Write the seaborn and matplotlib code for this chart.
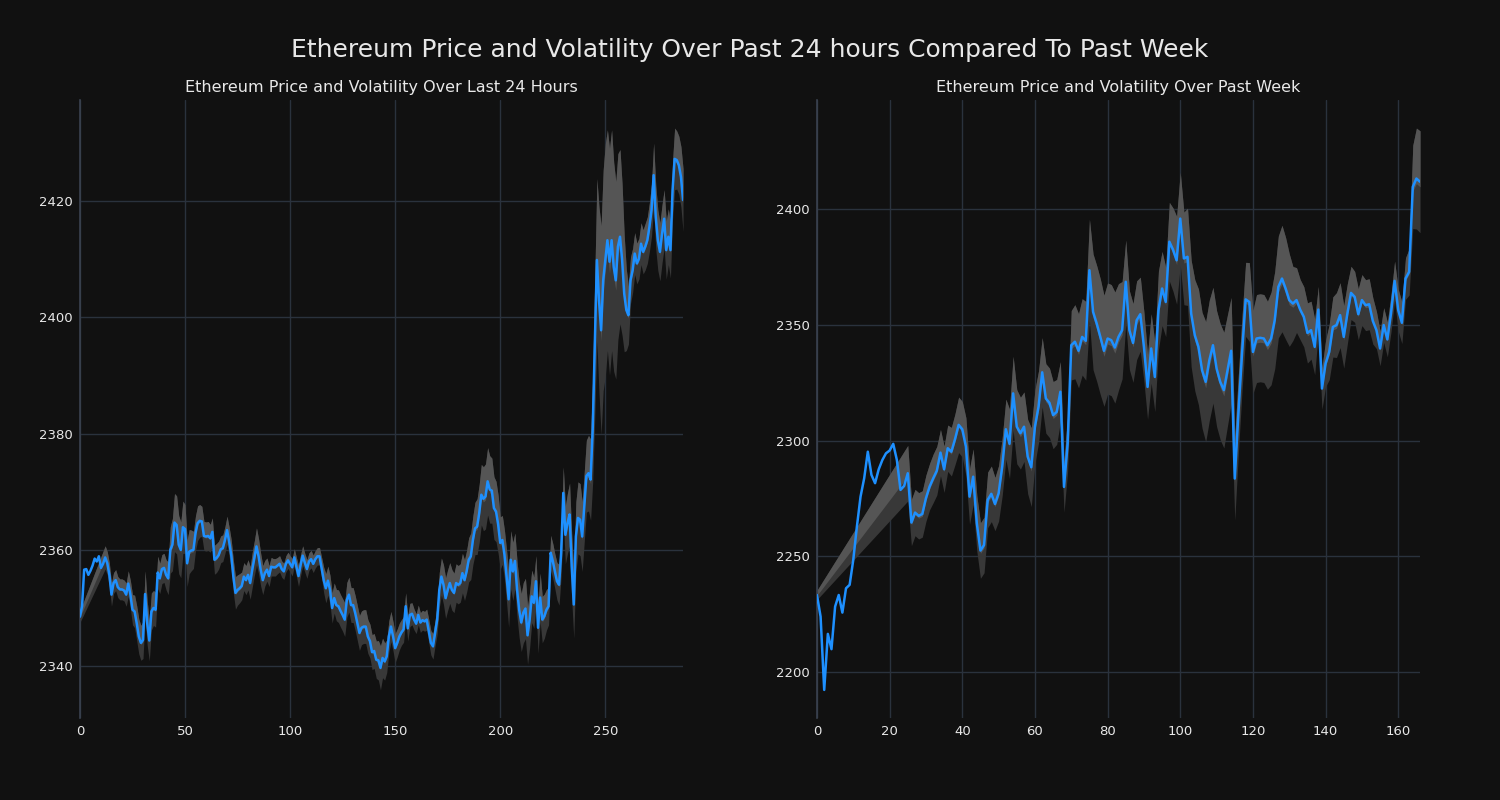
import numpy as np
import pandas as pd
import seaborn as sns
import matplotlib
matplotlib.use("Agg")
import matplotlib.pyplot as plt

nan = np.nan

# ---------------- data: last 24 hours (5-minute steps) ----------------
price_24h = [
    2348.5, 2350.3, 2356.6, 2356.7, 2355.7, 2356.4, 2357.3, 2358.5, 2358.0, 2358.9,
    2356.9, 2357.6, 2358.7, 2357.7, 2355.7, 2352.3, 2354.3, 2354.8, 2353.6, 2353.2,
    2353.2, 2353.0, 2352.3, 2354.2, 2352.3, 2349.7, 2349.4, 2347.4, 2345.1, 2344.0,
    2344.5, 2352.4, 2347.4, 2344.4, 2349.4, 2350.0, 2349.7, 2356.1, 2355.1, 2356.7,
    2356.9, 2355.7, 2355.1, 2360.0, 2360.9, 2364.7, 2364.3, 2360.9, 2360.0, 2363.9,
    2363.6, 2357.7, 2359.7, 2359.9, 2360.0, 2362.9, 2364.6, 2365.0, 2364.9, 2362.4,
    2362.3, 2362.4, 2362.0, 2363.1, 2358.3, 2358.6, 2359.1, 2360.1, 2360.3, 2361.7,
    2363.4, 2361.4, 2359.1, 2355.4, 2352.6, 2353.1, 2353.4, 2353.8, 2355.4, 2354.8,
    2355.7, 2354.3, 2356.6, 2358.6, 2360.6, 2358.9, 2356.6, 2354.8, 2356.0, 2356.6,
    2355.5, 2357.1, 2357.0, 2357.0, 2357.3, 2357.6, 2356.7, 2356.3, 2357.6, 2358.2,
    2357.6, 2357.0, 2358.7, 2357.1, 2355.5, 2357.4, 2359.0, 2357.8, 2356.7, 2358.0,
    2358.4, 2357.6, 2358.4, 2358.9, 2358.9, 2356.9, 2354.8, 2353.4, 2354.7, 2353.1,
    2350.0, 2351.7, 2350.5, 2350.3, 2349.5, 2348.8, 2348.0, 2351.4, 2352.3, 2350.5,
    2350.5, 2349.1, 2347.4, 2345.7, 2346.6, 2346.8, 2346.8, 2345.1, 2344.3, 2342.4,
    2342.6, 2341.1, 2341.0, 2339.7, 2341.4, 2340.8, 2341.7, 2345.1, 2346.8, 2345.1,
    2343.1, 2344.0, 2345.1, 2345.8, 2346.3, 2350.3, 2346.5, 2348.8, 2349.0, 2348.0,
    2347.3, 2348.8, 2347.5, 2347.9, 2347.7, 2348.0, 2346.0, 2344.0, 2343.4, 2345.7,
    2348.0, 2353.1, 2355.4, 2354.0, 2351.7, 2353.1, 2354.3, 2353.1, 2352.6, 2354.3,
    2354.0, 2354.3, 2356.0, 2354.8, 2356.3, 2358.3, 2358.9, 2361.7, 2363.7, 2364.0,
    2366.3, 2369.5, 2368.8, 2369.2, 2371.8, 2370.4, 2370.2, 2367.2, 2366.6, 2364.4,
    2361.2, 2361.7, 2359.2, 2355.5, 2351.5, 2358.3, 2356.3, 2358.1, 2353.2, 2349.7,
    2347.5, 2349.2, 2349.9, 2345.3, 2348.0, 2352.0, 2350.9, 2354.6, 2346.6, 2351.8,
    2348.0, 2348.6, 2349.7, 2350.3, 2359.5, 2358.1, 2356.3, 2354.6, 2354.0, 2359.5,
    2369.8, 2362.6, 2364.6, 2366.1, 2357.2, 2350.6, 2362.3, 2365.5, 2365.2, 2362.3,
    2367.5, 2372.7, 2373.2, 2372.1, 2380.7, 2395.0, 2409.9, 2403.0, 2397.8, 2406.4,
    2409.9, 2413.3, 2409.6, 2413.3, 2408.7, 2406.4, 2412.2, 2413.9, 2409.9, 2404.1,
    2401.3, 2400.4, 2406.4, 2408.1, 2411.0, 2409.3, 2410.1, 2412.7, 2411.3, 2412.2,
    2413.3, 2415.6, 2418.5, 2424.5, 2417.3, 2413.3, 2411.3, 2414.4, 2417.0, 2411.6,
    2413.9, 2411.6, 2421.9, 2427.3, 2427.1, 2426.2, 2424.2, 2420.2,
]

vol_24h = [
    1.0, nan, nan, nan, nan, nan, nan, nan, nan, nan,
    nan, nan, 2.0, 2.0, 2.0, 2.0, 1.8, 1.8, 1.8, 1.8,
    1.8, 1.8, 2.0, 2.2, 2.4, 2.6, 2.8, 3.0, 3.0, 3.0,
    3.2, 4.0, 3.8, 3.5, 3.2, 3.0, 3.0, 2.8, 2.6, 2.5,
    2.5, 2.6, 2.8, 4.0, 4.5, 5.0, 5.0, 5.0, 4.8, 4.5,
    4.2, 4.0, 3.8, 3.5, 3.2, 3.0, 3.0, 2.8, 2.6, 2.5,
    2.5, 2.5, 2.4, 2.4, 2.5, 2.5, 2.4, 2.3, 2.3, 2.3,
    2.4, 2.5, 2.6, 2.8, 2.8, 2.6, 2.5, 2.4, 2.4, 2.5,
    2.6, 2.8, 3.0, 3.0, 3.2, 3.0, 2.8, 2.5, 2.2, 2.0,
    1.8, 1.6, 1.5, 1.5, 1.4, 1.4, 1.4, 1.4, 1.4, 1.4,
    1.4, 1.5, 1.5, 1.6, 1.8, 1.8, 1.7, 1.6, 1.6, 1.5,
    1.5, 1.5, 1.5, 1.5, 1.5, 1.8, 2.2, 2.5, 2.5, 2.5,
    2.6, 2.6, 2.7, 2.8, 2.8, 2.8, 2.9, 3.0, 3.0, 3.0,
    3.0, 3.0, 3.0, 3.0, 2.9, 2.9, 2.9, 2.9, 2.9, 3.0,
    3.0, 3.2, 3.4, 3.8, 3.4, 3.2, 2.8, 2.7, 2.6, 2.5,
    2.5, 2.4, 2.3, 2.2, 2.2, 2.3, 2.2, 2.0, 1.9, 1.8,
    1.7, 1.7, 1.7, 1.7, 1.7, 1.8, 2.0, 2.1, 2.2, 2.2,
    2.5, 3.0, 3.2, 3.4, 3.5, 3.5, 3.5, 3.5, 3.4, 3.3,
    3.3, 3.3, 3.4, 3.5, 3.6, 3.8, 4.0, 4.2, 4.5, 4.8,
    5.0, 5.2, 5.5, 5.6, 5.8, 5.8, 5.6, 5.4, 5.2, 5.0,
    4.5, 4.2, 4.2, 4.5, 4.8, 5.0, 5.0, 4.8, 4.8, 4.8,
    5.0, 5.2, 5.2, 5.0, 4.8, 4.5, 4.4, 4.4, 4.4, 4.2,
    4.0, 3.8, 3.5, 3.2, 3.0, 3.0, 3.0, 3.2, 3.5, 4.0,
    4.5, 5.0, 5.2, 5.4, 5.6, 5.8, 6.0, 6.2, 6.2, 6.0,
    6.0, 6.2, 6.5, 7.0, 9.0, 12.0, 14.0, 16.0, 18.0, 19.0,
    20.0, 19.0, 19.5, 19.0, 18.0, 17.0, 16.0, 15.0, 13.0, 10.0,
    7.0, 5.0, 4.0, 3.8, 3.6, 3.5, 3.5, 3.6, 3.8, 4.0,
    4.0, 4.2, 4.5, 5.5, 5.5, 5.2, 5.0, 5.0, 5.0, 5.0,
    4.8, 4.8, 5.0, 5.3, 5.0, 5.0, 5.2, 5.4,
]

# ---------------- data: past week (hourly steps) ----------------
price_week = [
    2233.3, 2224.0, 2192.3, 2216.5, 2209.9, 2228.3, 2233.3, 2225.7, 2236.2, 2237.7,
    2248.5, 2262.9, 2275.8, 2283.7, 2295.2, 2285.2, 2281.6, 2287.6, 2291.6, 2294.5,
    2295.7, 2298.6, 2291.6, 2278.7, 2280.4, 2285.9, 2264.6, 2268.9, 2267.5, 2268.3,
    2275.1, 2280.1, 2283.7, 2287.0, 2294.8, 2287.6, 2296.7, 2295.2, 2300.6, 2306.8,
    2304.9, 2297.4, 2275.8, 2284.4, 2264.3, 2252.5, 2254.9, 2274.4, 2277.0, 2272.6,
    2277.2, 2288.8, 2304.9, 2298.6, 2320.4, 2306.0, 2303.2, 2306.0, 2293.1, 2288.5,
    2306.0, 2314.7, 2329.5, 2318.2, 2316.3, 2311.0, 2312.4, 2321.1, 2280.0, 2298.7,
    2341.2, 2342.7, 2338.8, 2344.8, 2343.1, 2373.6, 2355.6, 2350.6, 2344.8, 2338.8,
    2344.1, 2343.4, 2340.2, 2344.8, 2347.7, 2368.6, 2347.7, 2342.2, 2352.0, 2354.6,
    2340.5, 2323.2, 2339.8, 2327.5, 2356.3, 2365.7, 2359.9, 2385.9, 2382.5, 2377.9,
    2395.9, 2378.7, 2379.4, 2354.9, 2345.5, 2340.5, 2330.4, 2325.4, 2334.7, 2341.2,
    2331.1, 2325.4, 2321.8, 2330.4, 2338.8, 2283.6, 2311.7, 2337.6, 2361.0, 2359.9,
    2338.3, 2344.1, 2344.4, 2344.1, 2341.2, 2344.1, 2352.0, 2366.4, 2370.0, 2365.7,
    2360.7, 2359.2, 2360.7, 2356.6, 2353.5, 2346.5, 2347.7, 2340.5, 2356.6, 2322.5,
    2333.3, 2338.3, 2349.1, 2349.9, 2354.2, 2344.8, 2354.9, 2363.8, 2362.1, 2354.6,
    2360.7, 2358.5, 2358.9, 2351.7, 2347.7, 2339.8, 2349.9, 2343.7, 2354.9, 2369.0,
    2356.3, 2350.9, 2370.0, 2372.9, 2409.6, 2413.2, 2411.8,
]

vol_week = [
    2.0, nan, nan, nan, nan, nan, nan, nan, nan, nan,
    nan, nan, nan, nan, nan, nan, nan, nan, nan, nan,
    nan, nan, nan, nan, nan, 12.0, 10.0, 10.0, 10.0, 10.0,
    10.0, 10.0, 10.5, 10.5, 10.0, 10.0, 10.0, 10.5, 11.0, 12.0,
    12.0, 12.5, 12.0, 12.0, 12.0, 12.0, 12.0, 12.0, 12.0, 11.5,
    12.0, 12.5, 13.0, 15.0, 16.0, 16.0, 15.5, 15.0, 16.0, 17.0,
    16.0, 15.5, 15.0, 15.0, 15.0, 14.5, 14.0, 13.0, 11.0, 12.0,
    15.0, 16.0, 16.0, 16.5, 17.0, 22.0, 25.0, 25.0, 25.0, 24.0,
    24.0, 24.0, 24.0, 23.0, 21.0, 18.0, 17.0, 17.0, 17.0, 16.0,
    15.0, 14.0, 15.0, 15.0, 17.0, 16.0, 15.0, 17.0, 18.0, 19.0,
    20.0, 20.0, 21.0, 23.0, 24.0, 25.0, 25.0, 26.0, 26.0, 25.0,
    25.0, 25.0, 25.0, 24.0, 23.0, 18.0, 17.0, 16.0, 16.0, 17.0,
    18.0, 19.0, 19.0, 19.0, 19.0, 20.0, 21.0, 22.0, 23.0, 22.0,
    20.0, 16.0, 14.0, 13.0, 13.0, 13.0, 12.5, 12.0, 10.0, 9.0,
    10.0, 12.0, 13.0, 14.0, 14.0, 13.5, 13.0, 11.5, 11.0, 11.0,
    11.0, 11.0, 11.0, 10.0, 8.0, 7.5, 7.5, 7.5, 8.0, 8.5,
    9.0, 9.0, 9.0, 10.0, 18.0, 21.8, 22.0,
]

title_main = "Ethereum Price and Volatility Over Past 24 hours Compared To Past Week"
title_left = "Ethereum Price and Volatility Over Last 24 Hours"
title_right = "Ethereum Price and Volatility Over Past Week"

# ---------------- style ----------------
BG = "#111111"
GRID = "#2a323d"
TXT = "#e8e8e8"
LINE = "#1e90ff"
BAND_DARK = "#383838"
BAND_LIGHT = "#555555"

sns.set_theme(style="darkgrid", rc={
    "figure.facecolor": BG,
    "axes.facecolor": BG,
    "axes.edgecolor": "#3a4250",
    "grid.color": GRID,
    "grid.linewidth": 1.0,
    "xtick.color": TXT,
    "ytick.color": TXT,
    "text.color": TXT,
    "axes.labelcolor": TXT,
})
plt.rcParams["font.family"] = ["DejaVu Sans"]

fig, axes = plt.subplots(1, 2, figsize=(15, 8), dpi=100)
fig.subplots_adjust(left=0.0533, right=0.9467, bottom=0.1025, top=0.875, wspace=0.222)


def draw(ax, price, vol, title):
    df = pd.DataFrame({"x": np.arange(len(price)), "price": price, "vol": vol})
    b = df.dropna()
    ax.fill_between(b["x"], b["price"] - b["vol"], b["price"] + b["vol"],
                    color=BAND_DARK, linewidth=0, zorder=1)
    ax.fill_between(b["x"], b["price"] - 0.1 * b["vol"], b["price"] + b["vol"],
                    color=BAND_LIGHT, linewidth=0, zorder=1.5)
    sns.lineplot(data=df, x="x", y="price", ax=ax, color=LINE, linewidth=1.8, zorder=3)
    ax.set_xlim(df["x"].min(), df["x"].max())
    ax.set_xlabel("")
    ax.set_ylabel("")
    ax.set_title(title, fontsize=11.5, color=TXT)
    ax.tick_params(axis="both", length=0, labelsize=9.5, colors=TXT, pad=5)
    for side in ["top", "right", "bottom"]:
        ax.spines[side].set_visible(False)
    ax.spines["left"].set_visible(True)
    ax.spines["left"].set_color("#3a4250")
    ax.spines["left"].set_linewidth(1.2)
    ax.grid(True, color=GRID, linewidth=1.0)


draw(axes[0], price_24h, vol_24h, title_left)
draw(axes[1], price_week, vol_week, title_right)

fig.suptitle(title_main, fontsize=18, color=TXT, y=0.9375, va="center")

fig.savefig("out.png", dpi=100, facecolor=BG)
